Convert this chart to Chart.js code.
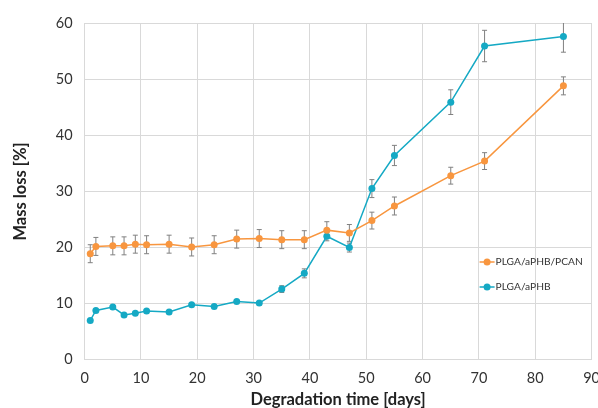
<!DOCTYPE html>
<html>
<head>
<meta charset="utf-8">
<script src="https://cdn.jsdelivr.net/npm/chart.js@4"></script>
<style>
    html, body { margin: 0; padding: 0; background: #fff; overflow: hidden; }
    #wrap { width: 610px; height: 408px; }
</style>
</head>
<body>
<div id="wrap"><canvas id="massChart" width="610" height="408"></canvas></div>
<script>
// Chart data
const days = [1, 2, 5, 7, 9, 11, 15, 19, 23, 27, 31, 35, 39, 43, 47, 51, 55, 65, 71, 85];
const pcanLoss = [18.9, 20.2, 20.3, 20.3, 20.6, 20.5, 20.6, 20.1, 20.5, 21.5, 21.6, 21.4, 21.4, 23.1, 22.6, 24.8, 27.4, 32.8, 35.4, 48.8];
const pcanErr = [1.6, 1.6, 1.6, 1.6, 1.6, 1.6, 1.6, 1.6, 1.6, 1.6, 1.6, 1.6, 1.6, 1.5, 1.5, 1.5, 1.6, 1.5, 1.5, 1.6];
const aphbLoss = [7.0, 8.8, 9.4, 8.0, 8.3, 8.7, 8.5, 9.8, 9.5, 10.4, 10.1, 12.6, 15.4, 22.0, 20.0, 30.5, 36.4, 45.9, 55.9, 57.6];
const aphbErr = [0, 0, 0, 0, 0, 0, 0, 0, 0, 0, 0, 0.6, 0.8, 0.8, 0.8, 1.6, 1.8, 2.2, 2.8, 2.8];
const seriesNames = ['PLGA/aPHB/PCAN', 'PLGA/aPHB'];

const orange = '#f8963f';
const cyan = '#15a9c4';
const fontFamily = 'Lato, "Open Sans", sans-serif';

function toPoints(ys) {
    return days.map((d, i) => ({ x: d, y: ys[i] }));
}

// Error bars drawn behind the markers
const errorBars = {
    id: 'errorBars',
    beforeDatasetsDraw(chart) {
        const ctx = chart.ctx;
        const xs = chart.scales.x;
        const ys = chart.scales.y;
        const area = chart.chartArea;
        ctx.save();
        ctx.beginPath();
        ctx.rect(area.left, area.top, area.right - area.left, area.bottom - area.top);
        ctx.clip();
        ctx.strokeStyle = '#808080';
        ctx.lineWidth = 1;
        chart.data.datasets.forEach(ds => {
            ds.err.forEach((e, i) => {
                if (!e) return;
                const px = xs.getPixelForValue(ds.data[i].x);
                const top = ys.getPixelForValue(ds.data[i].y + e);
                const bot = ys.getPixelForValue(ds.data[i].y - e);
                ctx.beginPath();
                ctx.moveTo(px, top); ctx.lineTo(px, bot);
                ctx.moveTo(px - 2.5, top); ctx.lineTo(px + 2.5, top);
                ctx.moveTo(px - 2.5, bot); ctx.lineTo(px + 2.5, bot);
                ctx.stroke();
            });
        });
        ctx.restore();
    }
};

// Legend inside the plot, right side
const innerLegend = {
    id: 'innerLegend',
    afterDraw(chart) {
        const ctx = chart.ctx;
        const area = chart.chartArea;
        const x0 = area.right - 112;
        const y0 = area.top + 239;
        ctx.save();
        ctx.font = '10.2px ' + fontFamily;
        ctx.textBaseline = 'middle';
        chart.data.datasets.forEach((ds, i) => {
            const y = y0 + i * 25;
            ctx.strokeStyle = ds.borderColor;
            ctx.lineWidth = 1.5;
            ctx.beginPath();
            ctx.moveTo(x0, y); ctx.lineTo(x0 + 15, y);
            ctx.stroke();
            ctx.fillStyle = ds.borderColor;
            ctx.beginPath();
            ctx.arc(x0 + 7.5, y, 3.5, 0, Math.PI * 2);
            ctx.fill();
            ctx.fillStyle = '#333';
            ctx.fillText(ds.label, x0 + 16, y);
        });
        ctx.restore();
    }
};

const ctx = document.getElementById('massChart').getContext('2d');

new Chart(ctx, {
    type: 'scatter',
    data: {
        datasets: [{
            label: seriesNames[0],
            data: toPoints(pcanLoss),
            err: pcanErr,
            showLine: true,
            borderColor: orange,
            backgroundColor: orange,
            borderWidth: 1.5,
            pointRadius: 3.5,
            pointBorderWidth: 0
        }, {
            label: seriesNames[1],
            data: toPoints(aphbLoss),
            err: aphbErr,
            showLine: true,
            borderColor: cyan,
            backgroundColor: cyan,
            borderWidth: 1.5,
            pointRadius: 3.5,
            pointBorderWidth: 0
        }]
    },
    options: {
        responsive: false,
        animation: false,
        layout: { padding: { left: 11, top: 23, right: 0, bottom: -2 } },
        plugins: {
            legend: { display: false },
            tooltip: { enabled: false }
        },
        scales: {
            x: {
                type: 'linear',
                min: 0,
                max: 90,
                grid: { color: '#d9d9d9', drawTicks: false },
                border: { color: '#d9d9d9' },
                ticks: {
                    stepSize: 10,
                    padding: 10,
                    color: '#333',
                    font: { family: fontFamily, size: 14.5 }
                },
                title: {
                    display: true,
                    text: 'Degradation time [days]',
                    color: '#222',
                    padding: { top: -7, bottom: 0 },
                    font: { family: fontFamily, size: 16.5, weight: 'bold' }
                }
            },
            y: {
                min: 0,
                max: 60,
                grid: { color: '#d9d9d9', drawTicks: false },
                border: { color: '#d9d9d9' },
                ticks: {
                    stepSize: 10,
                    padding: 12,
                    color: '#333',
                    font: { family: fontFamily, size: 14.5 }
                },
                title: {
                    display: true,
                    text: 'Mass loss [%]',
                    color: '#222',
                    padding: { top: 0, bottom: 13 },
                    font: { family: fontFamily, size: 16.5, weight: 'bold' }
                }
            }
        }
    },
    plugins: [errorBars, innerLegend]
});
</script>
</body>
</html>
